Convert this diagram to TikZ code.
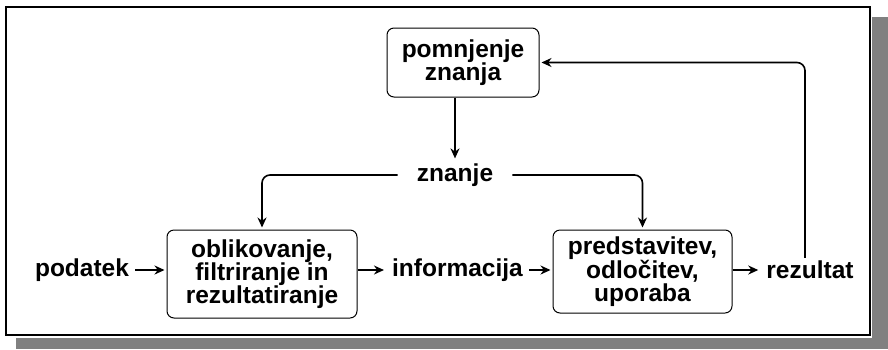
\documentclass[tikz,border=0pt]{standalone}
\usepackage{fontspec}
\setmainfont{Liberation Sans}
\usetikzlibrary{arrows.meta, positioning, calc}
\definecolor{framegray}{RGB}{128,128,128}

\tikzset{
  stagebox/.style={draw, line width=1pt, rounded corners=7pt, align=center,
    font=\fontsize{24.5}{23}\selectfont\bfseries, inner sep=0pt},
  flowtext/.style={font=\fontsize{24.5}{23}\selectfont\bfseries, inner xsep=6pt, inner ysep=3pt},
  link/.style={line width=1.6pt, -{Stealth[length=10pt,width=9pt]}, shorten >=2pt},
}

\begin{document}
\begin{tikzpicture}[x=1pt, y=-1pt]
\useasboundingbox (0,0) rectangle (888,349);
% frame with shadow
\fill[framegray] (16,17) rectangle (888,349);
\fill[white] (0,0) rectangle (872,337.5);
\draw[line width=2pt] (6,7) rectangle (870,335);
% boxes
\node[stagebox, minimum width=152, minimum height=69] (store) at (463,62.5) {pomnjenje\\znanja};
\node[stagebox, minimum width=190, minimum height=88] (shape) at (262,274) {oblikovanje,\\filtriranje in\\rezultatiranje};
\node[stagebox, minimum width=179, minimum height=83] (use) at (642.5,271.5) {predstavitev,\\odlo\v{c}itev,\\uporaba};
% plain labels
\node[flowtext] (data) at (82,270) {podatek};
\node[flowtext] (info) at (457.5,270) {informacija};
\node[flowtext] (result) at (810,270) {rezultat};
\node[flowtext, inner xsep=19pt] (knowledge) at (455,175) {znanje};
% main flow
\draw[link] (data.east) -- (data.east -| shape.west);
\draw[link] (shape.east |- info.west) -- (info.west);
\draw[link] (info.east) -- (info.east -| use.west);
\draw[link] (use.east |- result.west) -- (result.west);
% knowledge loop
\draw[link, rounded corners=8pt] ([xshift=-5pt]result.north) |- (store.east);
\draw[link] (store.south -| knowledge.north) -- (knowledge.north);
\draw[link, rounded corners=8pt] (knowledge.west) -| (shape.north);
\draw[link, rounded corners=8pt] (knowledge.east) -| (use.north);
\end{tikzpicture}
\end{document}
